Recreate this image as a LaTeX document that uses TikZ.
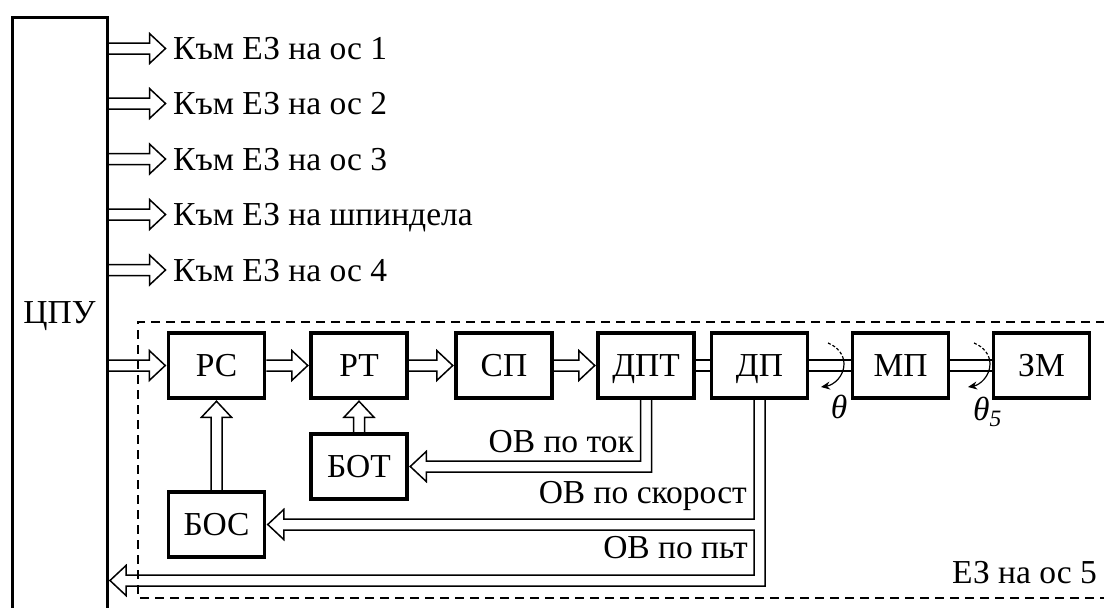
\documentclass[tikz,border=0pt]{standalone}
\usepackage{fontspec}
\setmainfont{Liberation Serif}
\usetikzlibrary{calc,arrows.meta}
\newcommand\hollowR[2]{\draw[fb] ($(#1)+(0,-5.5)$) -- ($(#2)+(-17.5,-5.5)$) -- ++(0,-9.5) -- ($(#2)+(-1.5,0)$) -- ($(#2)+(-17.5,15)$) -- ++(0,-9.5) -- ($(#1)+(0,5.5)$);}
\newcommand\hollowU[2]{\draw[fb] ($(#1)+(-5.5,0)$) -- ($(#2)+(-5.5,17.5)$) -- ++(-9.5,0) -- ($(#2)+(0,1.5)$) -- ($(#2)+(15,17.5)$) -- ++(-9.5,0) -- ($(#1)+(5.5,0)$);}
\begin{document}
\begin{tikzpicture}[x=1pt,y=-1pt,
  fnt/.style={font=\fontsize{33.5}{40}\selectfont},
  blk/.style={draw, line width=3.5pt, minimum width=96pt, minimum height=65pt, inner sep=0pt, text height=22pt, text depth=0pt, fnt},
  lbl/.style={inner sep=0pt, fnt},
  fb/.style={line width=1.5pt, line join=miter},
  shaft/.style={line width=1.5pt},
  rot/.style={line width=1.2pt}]
\fill[white] (0,0) rectangle (1104,608);
\useasboundingbox (0,0) rectangle (1104,608);

% CPU
\node[draw, line width=3pt, minimum width=95pt, minimum height=640pt, inner sep=0pt] (cpu) at (59.5,337) {};
\node[lbl, anchor=base] (cpul) at (59.5,323) {ЦПУ};

% dashed frame
\draw[line width=1.4pt, dash pattern=on 9pt off 6pt] (1120,322) -- (138,322) -- (138,598) -- (1120,598);

% outputs
\coordinate (r1) at (167,48.5);
\coordinate (r2) at (167,103.5);
\coordinate (r3) at (167,159);
\coordinate (r4) at (167,214.5);
\coordinate (r5) at (167,270);
\node[lbl, anchor=base west] (o1) at (173,59.6) {Към ЕЗ на ос 1};
\node[lbl, anchor=base west] (o2) at (173,114.6) {Към ЕЗ на ос 2};
\node[lbl, anchor=base west] (o3) at (173,170.1) {Към ЕЗ на ос 3};
\node[lbl, anchor=base west] (o4) at (173,225.6) {Към ЕЗ на шпиндела};
\node[lbl, anchor=base west] (o5) at (173,281.1) {Към ЕЗ на ос 4};
\hollowR{cpu.east |- r1}{r1}
\hollowR{cpu.east |- r2}{r2}
\hollowR{cpu.east |- r3}{r3}
\hollowR{cpu.east |- r4}{r4}
\hollowR{cpu.east |- r5}{r5}

% blocks
\node[blk] (pc) at (216.5,365.5) {РС};
\node[blk] (pt) at (359,365.5) {РТ};
\node[blk] (sp) at (504,365.5) {СП};
\node[blk] (dpt) at (646,365.5) {ДПТ};
\node[blk] (dp) at (759.5,365.5) {ДП};
\node[blk] (mp) at (900.5,365.5) {МП};
\node[blk] (zm) at (1041.5,365.5) {ЗМ};
\node[blk] (bot) at (359,466.5) {БОТ};
\node[blk] (bos) at (216.5,524.5) {БОС};

% forward arrows
\hollowR{cpu.east |- pc.west}{pc.west}
\hollowR{pc.east}{pt.west}
\hollowR{pt.east}{sp.west}
\hollowR{sp.east}{dpt.west}

% shafts
\draw[shaft] ($(dpt.east)+(0,-5.5)$) -- ($(dp.west)+(0,-5.5)$);
\draw[shaft] ($(dpt.east)+(0,5.5)$) -- ($(dp.west)+(0,5.5)$);
\draw[shaft] ($(dp.east)+(0,-5.5)$) -- ($(mp.west)+(0,-5.5)$);
\draw[shaft] ($(dp.east)+(0,5.5)$) -- ($(mp.west)+(0,5.5)$);
\draw[shaft] ($(mp.east)+(0,-5.5)$) -- ($(zm.west)+(0,-5.5)$);
\draw[shaft] ($(mp.east)+(0,5.5)$) -- ($(zm.west)+(0,5.5)$);

% rotation symbols
\draw[rot, dash pattern=on 3pt off 2pt] (828,343) .. controls (838,347) and (844,355) .. (844,364);
\draw[rot, -{Stealth[length=9pt,width=8pt]}] (844,364) .. controls (844,376) and (834,385) .. (821,387);
\draw[rot, dash pattern=on 3pt off 2pt] (974,343) .. controls (984,347) and (990,355) .. (990,364);
\draw[rot, -{Stealth[length=9pt,width=8pt]}] (990,364) .. controls (990,376) and (980,385) .. (968,387);
\node[lbl, anchor=base] (th1) at (839,418) {\textit{θ}};
\node[lbl, anchor=base west] (th2) at (973,420) {\textit{θ\textsubscript{5}}};

% feedback arrows
\hollowU{bot.north}{pt.south}
\hollowU{bos.north}{pc.south}
\coordinate (pl) at (0,580.5);
\draw[fb] ($(dpt.south)+(-5.5,0)$) |- ($(bot.east)+(17.5,-5.5)$) -- ++(0,-9.5) -- ($(bot.east)+(1.5,0)$) -- ($(bot.east)+(17.5,15)$) -- ++(0,-9.5) -| ($(dpt.south)+(5.5,0)$);
\draw[fb] ($(dp.south)+(-5.5,0)$) |- ($(bos.east)+(17.5,-5.5)$) -- ++(0,-9.5) -- ($(bos.east)+(1.5,0)$) -- ($(bos.east)+(17.5,15)$) -- ++(0,-9.5) -| ($(dp.south |- pl)+(-5.5,-5.5)$) -- ($(cpu.east |- pl)+(17.5,-5.5)$) -- ++(0,-9.5) -- ($(cpu.east |- pl)+(1.5,0)$) -- ($(cpu.east |- pl)+(17.5,15)$) -- ++(0,-9.5) -| ($(dp.south)+(5.5,0)$);

% labels
\node[lbl, anchor=base east] (lcur) at (634,452) {ОВ по ток};
\node[lbl, anchor=base east] (lspd) at (747,503) {ОВ по скорост};
\node[lbl, anchor=base east] (lpth) at (748,558) {ОВ по пьт};
\node[lbl, anchor=base west] (lez) at (952,583) {ЕЗ на ос 5};
\end{tikzpicture}
\end{document}
